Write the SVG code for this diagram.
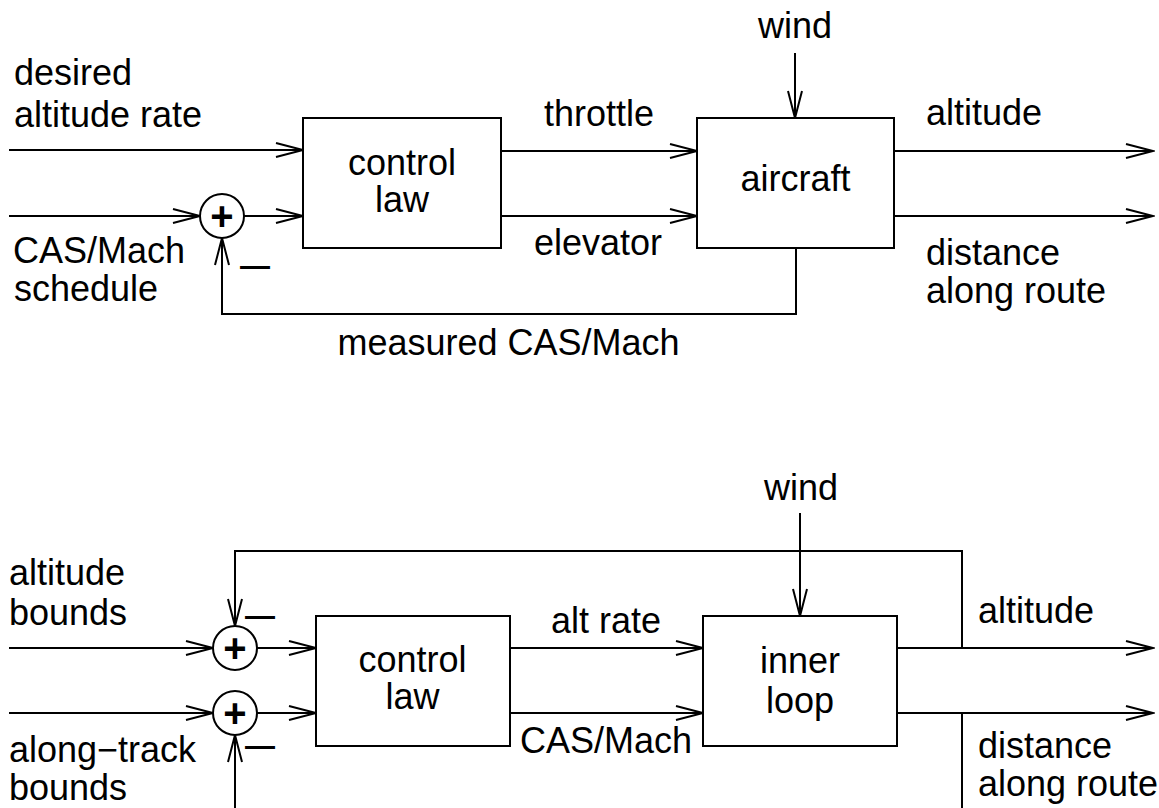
<svg xmlns="http://www.w3.org/2000/svg" width="1159" height="808" viewBox="0 0 1159 808">
<style>
text{font-family:"Liberation Sans",Arial,Helvetica,sans-serif;font-size:36px;fill:#000}
.box{fill:#fff;stroke:#000;stroke-width:2}
.sum{fill:#fff;stroke:#000;stroke-width:2}
.plus{font-weight:bold;font-size:40px;text-anchor:middle}
.minus{font-weight:bold;font-size:30px}
.mid{text-anchor:middle}
.wire{fill:none;stroke:#000;stroke-width:2}
.arr{marker-end:url(#arrow)}
</style>
<defs>
<marker id="arrow" viewBox="-30 -10 32 20" refX="0" refY="0" markerWidth="32" markerHeight="20" markerUnits="userSpaceOnUse" orient="auto">
<path d="M-27,-7 L0,0 L-27,7" fill="none" stroke="#000" stroke-width="2"/>
</marker>
</defs>
<rect width="1159" height="808" fill="#fff"/>

<g id="connectors">
<!-- top diagram -->
<path class="wire arr" d="M9,150 H303"/>
<path class="wire arr" d="M9,216 H200"/>
<path class="wire arr" d="M244,216 H303"/>
<path class="wire arr" d="M501,151 H697"/>
<path class="wire arr" d="M501,216 H697"/>
<path class="wire arr" d="M795,53 V118"/>
<path class="wire arr" d="M894,151 H1153"/>
<path class="wire arr" d="M894,216 H1153"/>
<path class="wire arr" d="M796,248 V314 H222 V238"/>
<!-- bottom diagram -->
<path class="wire arr" d="M9,648 H213"/>
<path class="wire arr" d="M257,648 H316"/>
<path class="wire arr" d="M9,713 H213"/>
<path class="wire arr" d="M257,713 H316"/>
<path class="wire arr" d="M510,648 H703"/>
<path class="wire arr" d="M510,713 H703"/>
<path class="wire arr" d="M800,513 V616"/>
<path class="wire arr" d="M897,648 H1153"/>
<path class="wire arr" d="M897,713 H1153"/>
<path class="wire arr" d="M962,648 V551 H235 V626"/>
<path class="wire" d="M962,713 V820"/>
<path class="wire arr" d="M235,820 V735"/>
</g>

<g id="top-sum">
<circle class="sum" cx="222" cy="216" r="22"/>
<text class="plus" x="222" y="230">+</text>
<text class="minus" x="240" y="276">—</text>
</g>
<g id="top-control-law">
<rect class="box" x="303" y="118" width="198" height="130"/>
<text class="mid" x="402" y="175">control</text>
<text class="mid" x="402" y="212">law</text>
</g>
<g id="aircraft">
<rect class="box" x="697" y="118" width="197" height="130"/>
<text class="mid" x="795.5" y="191">aircraft</text>
</g>
<g id="top-labels">
<text x="14" y="85">desired</text>
<text x="14" y="127">altitude rate</text>
<text x="13" y="263">CAS/Mach</text>
<text x="14" y="301">schedule</text>
<text x="544" y="126">throttle</text>
<text x="534" y="255">elevator</text>
<text x="758" y="38">wind</text>
<text x="926" y="125">altitude</text>
<text x="926" y="265">distance</text>
<text x="926" y="303">along route</text>
<text class="mid" x="508.5" y="355">measured CAS/Mach</text>
</g>

<g id="bottom-sum-alt">
<circle class="sum" cx="235" cy="648" r="22"/>
<text class="plus" x="235" y="662">+</text>
<text class="minus" x="245" y="626">—</text>
</g>
<g id="bottom-sum-track">
<circle class="sum" cx="235" cy="713" r="22"/>
<text class="plus" x="235" y="727">+</text>
<text class="minus" x="245" y="756">—</text>
</g>
<g id="bottom-control-law">
<rect class="box" x="316" y="616" width="194" height="130"/>
<text class="mid" x="412.5" y="672">control</text>
<text class="mid" x="412.5" y="709">law</text>
</g>
<g id="inner-loop">
<rect class="box" x="703" y="616" width="194" height="130"/>
<text class="mid" x="800" y="673">inner</text>
<text class="mid" x="800" y="713">loop</text>
</g>
<g id="bottom-labels">
<text x="9" y="585">altitude</text>
<text x="9" y="625">bounds</text>
<text x="9" y="762">along−track</text>
<text x="9" y="800">bounds</text>
<text x="551" y="633">alt rate</text>
<text x="520" y="753">CAS/Mach</text>
<text x="764" y="500">wind</text>
<text x="978" y="623">altitude</text>
<text x="978" y="758">distance</text>
<text x="978" y="796">along route</text>
</g>
</svg>
